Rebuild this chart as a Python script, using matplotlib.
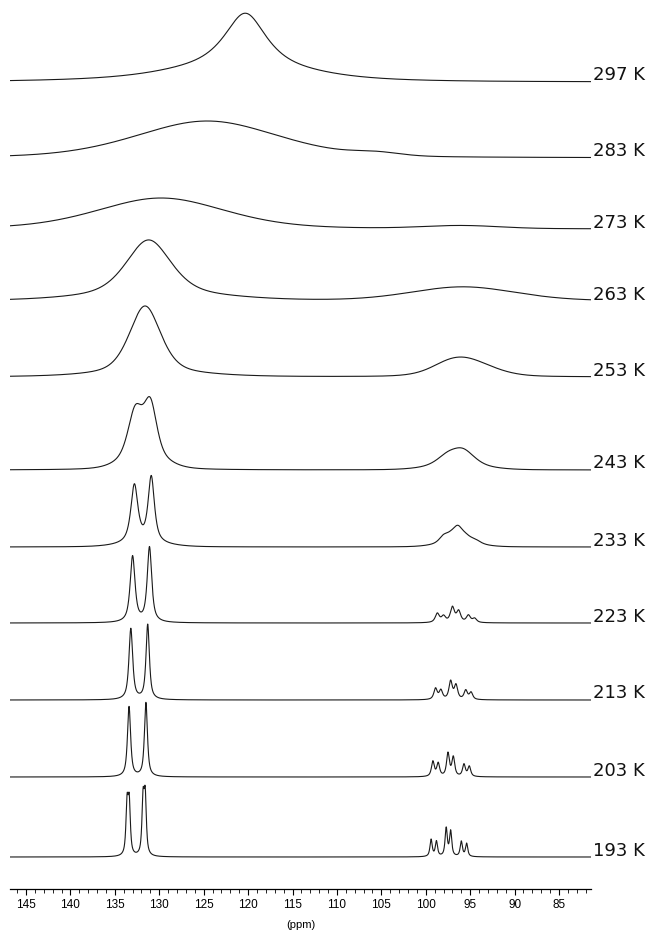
import numpy as np
import matplotlib
matplotlib.use("Agg")
import matplotlib.pyplot as plt
from matplotlib.ticker import MultipleLocator
from matplotlib.transforms import blended_transform_factory

# ---------------- data ----------------
temperatures = ["297 K", "283 K", "273 K", "263 K", "253 K", "243 K",
                "233 K", "223 K", "213 K", "203 K", "193 K"]

# baseline level of each trace (stack offset, in plot units)
offsets = [807, 731, 660, 588, 512, 419, 342, 266, 189, 112, 32]

# peak lists: (position ppm, intensity, full width at half height ppm, lorentzian fraction)
peaks_297 = [(120.3, 52, 5.5, 0.8), (121.0, 14, 16.0, 0.3), (124.0, 3, 30.0, 0.0)]
peaks_283 = [(124.6, 37, 19.0, 0.3), (105.5, 3, 6.0, 0.0)]
peaks_273 = [(129.8, 31, 17.0, 0.3), (96.0, 3, 10.0, 0.0)]
peaks_263 = [(131.2, 55, 6.0, 0.5), (130.5, 6, 18.0, 0.0), (95.8, 14, 14.0, 0.2)]
peaks_253 = [(131.6, 68, 4.2, 0.5), (131.0, 3, 14.0, 0.0), (95.6, 18, 7.0, 0.3), (97.5, 3, 4.0, 0.0)]
peaks_243 = [(132.7, 44, 1.9, 0.5), (131.0, 50, 1.7, 0.5), (131.8, 16, 5.0, 0.2),
             (95.8, 14, 3.0, 0.4), (97.6, 8, 2.8, 0.4), (96.5, 5, 7.0, 0.0)]
peaks_233 = [(132.8, 58, 0.95, 0.8), (130.9, 66, 0.85, 0.8), (131.8, 3, 6.0, 0.0),
             (98.0, 6, 1.2, 0.6), (97.2, 5, 1.4, 0.6), (96.4, 13, 1.3, 0.6),
             (95.5, 5, 1.5, 0.6), (94.4, 3, 1.4, 0.6), (96.4, 4, 5.0, 0.0)]
peaks_223 = [(133.0, 66, 0.65, 0.8), (131.1, 75, 0.6, 0.8),
             (98.7, 9, 0.55, 0.8), (98.0, 6, 0.55, 0.8), (97.0, 15, 0.55, 0.8),
             (96.3, 11, 0.55, 0.8), (95.2, 7, 0.55, 0.8), (94.5, 4, 0.55, 0.8)]
peaks_213 = [(133.2, 71, 0.5, 0.8), (131.3, 75, 0.45, 0.8),
             (98.9, 11, 0.45, 0.8), (98.3, 9, 0.45, 0.8), (97.2, 18, 0.45, 0.8),
             (96.6, 14, 0.45, 0.8), (95.5, 9, 0.45, 0.8), (94.9, 7, 0.45, 0.8)]
peaks_203 = [(133.4, 70, 0.42, 0.8), (131.5, 74, 0.4, 0.8),
             (99.2, 15, 0.38, 0.8), (98.6, 13, 0.38, 0.8), (97.5, 23, 0.38, 0.8),
             (96.9, 19, 0.38, 0.8), (95.7, 12, 0.38, 0.8), (95.1, 10, 0.38, 0.8)]
peaks_193 = [(133.62, 50, 0.3, 0.8), (133.38, 50, 0.3, 0.8),
             (131.82, 54, 0.3, 0.8), (131.58, 56, 0.3, 0.8),
             (99.4, 17, 0.3, 0.8), (98.8, 15, 0.3, 0.8), (97.7, 28, 0.3, 0.8),
             (97.2, 25, 0.3, 0.8), (96.0, 15, 0.3, 0.8), (95.4, 13, 0.3, 0.8)]

peak_sets = [peaks_297, peaks_283, peaks_273, peaks_263, peaks_253, peaks_243,
             peaks_233, peaks_223, peaks_213, peaks_203, peaks_193]

x_min, x_max = 81.4, 146.8
major_step, minor_step = 5, 1

# ---------------- figure ----------------
W, H = 655, 931
fig = plt.figure(figsize=(W / 100, H / 100), dpi=100)
ax = fig.add_axes([10 / W, 42 / H, 581 / W, 889 / H])

ppm = np.linspace(x_max, x_min, 6000)


def spectrum(peaks):
    y = np.zeros_like(ppm)
    for pos, hgt, fw, eta in peaks:
        d = (ppm - pos) / (fw / 2.0)
        lor = 1.0 / (1.0 + d ** 2)
        gau = np.exp(-np.log(2.0) * d ** 2)
        y += hgt * (eta * lor + (1.0 - eta) * gau)
    return y


trans = blended_transform_factory(ax.transAxes, ax.transData)
for label, off, pk in zip(temperatures, offsets, peak_sets):
    ax.plot(ppm, off + spectrum(pk), color="#1a1a1a", lw=0.8)
    ax.text(1.003, off + 1.5, label, transform=trans, ha="left", va="baseline",
            fontsize=13, family="DejaVu Sans", color="#111111")

ax.set_xlim(x_max, x_min)
ax.set_ylim(0, 889)

for s in ["top", "left", "right"]:
    ax.spines[s].set_visible(False)
ax.spines["bottom"].set_linewidth(0.9)
ax.set_yticks([])
ax.xaxis.set_major_locator(MultipleLocator(major_step))
ax.xaxis.set_minor_locator(MultipleLocator(minor_step))
ax.tick_params(axis="x", which="major", direction="out", length=4.5, width=0.8,
               pad=2.5, labelsize=8.5)
ax.tick_params(axis="x", which="minor", direction="out", length=3, width=0.6)
for t in ax.get_xticklabels():
    t.set_family("Liberation Sans")
ax.set_xlabel("(ppm)", fontsize=8, family="Liberation Sans", labelpad=7)

fig.savefig("out.png", dpi=100)
